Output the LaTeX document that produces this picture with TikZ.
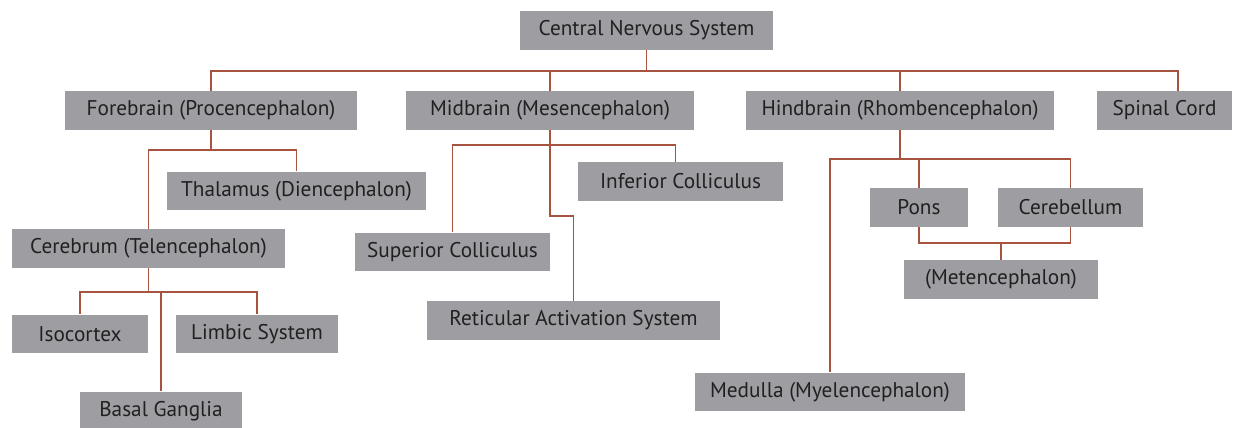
\documentclass[tikz,border=0pt]{standalone}
\usepackage{fontspec}
\setmainfont{PT Sans}
\definecolor{grisboite}{RGB}{158,158,162}
\definecolor{brunlien}{RGB}{166,84,64}
\definecolor{texte}{RGB}{32,32,34}
\begin{document}
\begin{tikzpicture}[x=0.02cm, y=-0.02cm]
				\tikzset{boite/.style={rectangle, fill=grisboite, text=texte, inner sep=0, minimum height=0.78cm, font=\fontsize{12.1}{14}\selectfont}, lien/.style={draw=brunlien, line width=1.1pt}};
				\useasboundingbox (0,0) rectangle (1256,428);
				% niveaux des barres
				\coordinate (n1) at (0,71);
				\coordinate (n2) at (0,150);
				\coordinate (n3) at (0,292);
				\coordinate (n4) at (0,145);
				\coordinate (n5) at (0,216);
				\coordinate (n6) at (0,159);
				\coordinate (n7) at (0,243);
				\coordinate (sc) at (1178,91);

				\node[boite, minimum width=5.06cm] (cns) at (646.5,30.5) {Central Nervous System};
				\node[boite, minimum width=5.84cm] (fore) at (211,110.5) {Forebrain (Procencephalon)};
				\node[boite, minimum width=5.76cm] (mid) at (550,110.5) {Midbrain (Mesencephalon)};
				\node[boite, minimum width=6.16cm] (hind) at (900,110.5) {Hindbrain (Rhombencephalon)};
				\node[boite, minimum width=2.70cm] (spinal) at (1164.5,110.5) {Spinal Cord};

				\node[boite, minimum width=5.18cm] (thal) at (296.5,191) {Thalamus (Diencephalon)};
				\node[boite, minimum width=5.46cm] (cere) at (148.5,248.5) {Cerebrum (Telencephalon)};
				\node[boite, minimum width=2.72cm] (iso) at (80,334) {Isocortex};
				\node[boite, minimum width=3.24cm] (limbic) at (257,334) {Limbic System};
				\node[boite, minimum width=3.24cm] (basal) at (161,411) {Basal Ganglia};

				\node[boite, minimum width=4.10cm] (inf) at (680.5,181.5) {Inferior Colliculus};
				\node[boite, minimum width=3.90cm] (sup) at (452.5,252) {Superior Colliculus};
				\node[boite, minimum width=5.86cm] (ret) at (573.5,320.5) {Reticular Activation System};

				\node[boite, minimum width=1.96cm] (pons) at (919,207.5) {Pons};
				\node[boite, minimum width=2.90cm] (cereb) at (1070.5,207.5) {Cerebellum};
				\node[boite, minimum width=3.88cm] (met) at (1001,279.5) {(Metencephalon)};
				\node[boite, minimum width=5.40cm] (med) at (830,392) {Medulla (Myelencephalon)};

				\draw[lien] (cns.south) -- (cns.south |- n1) -| (fore.north);
				\draw[lien] (cns.south |- n1) -| (mid.north);
				\draw[lien] (cns.south |- n1) -| (hind.north);
				\draw[lien] (cns.south |- n1) -| (sc);

				\draw[lien] (fore.south) -- (fore.south |- n2) -| (thal.north);
				\draw[lien] (fore.south |- n2) -| (cere.north);
				\draw[lien] (cere.south) -- (cere.south |- n3) -| (iso.north);
				\draw[lien] (cere.south |- n3) -| (limbic.north);
				\draw[lien] (cere.south |- n3) -| (basal.north);

				\draw[lien] (mid.south) -- (mid.south |- n4) -| (sup.north);
				\draw[lien] (mid.south |- n4) -| ([xshift=-0.1cm]inf.north);
				\draw[lien] (mid.south) -- (mid.south |- n5) -| (ret.north);

				\draw[lien] (hind.south) -- (hind.south |- n6) -| (pons.north);
				\draw[lien] (hind.south |- n6) -| (cereb.north);
				\draw[lien] (hind.south |- n6) -| (med.north);
				\draw[lien] (pons.south) |- (cereb.south |- n7) -- (cereb.south);
				\draw[lien] (met.north) -- (met.north |- n7);
			\end{tikzpicture}
\end{document}
